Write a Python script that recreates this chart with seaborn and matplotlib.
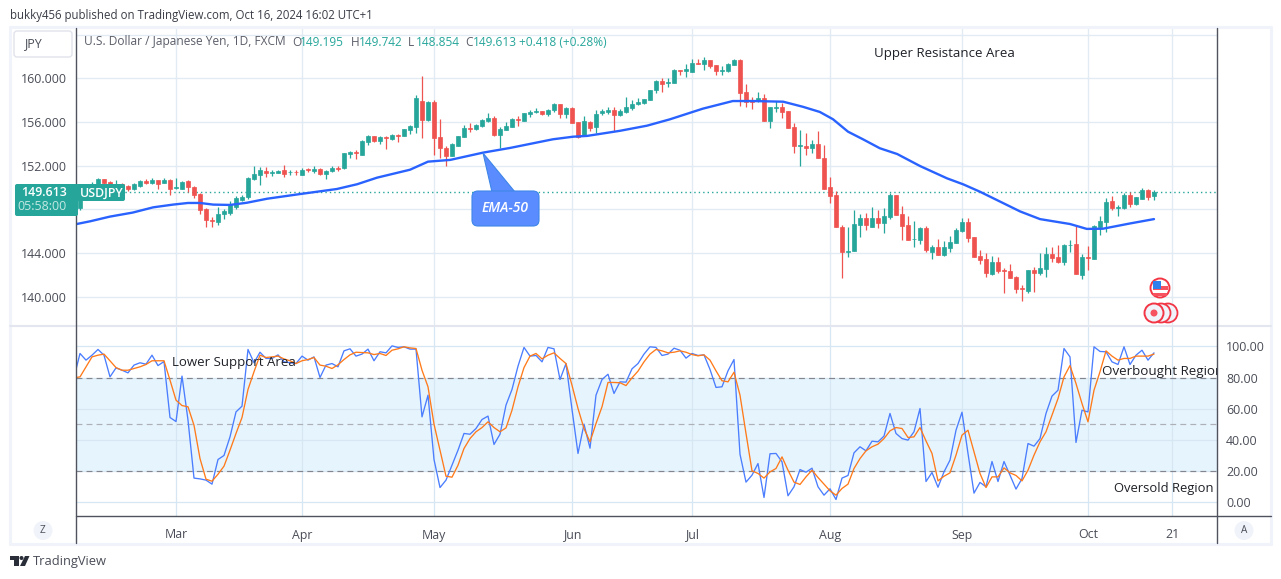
import matplotlib
matplotlib.use("Agg")
import matplotlib.pyplot as plt
import matplotlib.patches as mp
from matplotlib.transforms import Affine2D
import numpy as np
import pandas as pd
import seaborn as sns

opens = [148.1,149.0,149.6,150.3,150.75,150.5,150.2,150.3,150.1,149.9,
150.15,150.55,150.4,150.65,150.45,150.7,149.95,149.9,150.55,150.05,
149.4,148.0,147.05,146.85,147.55,147.7,148.25,148.85,149.1,150.75,
151.15,151.55,151.35,151.35,151.6,151.4,151.45,151.15,151.7,151.55,
151.7,151.25,151.5,151.8,151.75,153.1,153.3,153.0,154.15,154.7,
154.3,154.6,154.45,154.85,154.75,155.25,155.55,157.9,156.2,157.8,
154.65,153.65,152.9,153.8,154.6,155.45,155.4,155.6,156.1,156.35,
154.8,155.3,155.55,156.25,156.1,156.75,156.95,157.0,156.75,157.1,
157.65,156.75,157.3,156.0,154.8,156.05,155.55,156.8,156.9,157.1,
156.65,156.9,157.25,157.65,157.75,158.0,158.9,159.8,159.6,159.55,
160.75,160.65,160.6,161.4,161.35,161.7,161.2,160.7,160.65,161.25,
161.7,158.75,158.05,157.9,158.25,156.1,157.3,157.35,157.05,155.55,
153.85,153.85,153.6,154.0,152.75,150.0,149.3,
146.4,144.1,144.15,146.55,147.2,146.4,147.2,146.75,147.3,149.3,
147.6,146.55,145.25,145.2,146.3,144.1,144.55,143.8,144.45,144.9,
146.0,146.85,145.45,143.7,143.45,142.05,143.15,142.4,142.3,141.8,
140.75,140.5,142.45,142.15,142.5,143.9,143.6,143.15,144.7,144.85,
141.95,143.6,143.45,146.4,146.85,148.75,148.15,148.1,149.3,148.5,
148.95,149.75,149.195]
highs = [149.3,149.8,150.5,150.85,150.8,150.55,150.65,150.4,150.25,150.45,
150.65,150.75,150.85,150.7,150.85,150.75,150.9,150.6,150.65,150.1,
149.45,148.1,147.3,148.2,148.0,148.75,149.2,149.3,150.95,151.95,
151.85,151.9,151.65,151.6,152.05,151.6,151.65,151.8,151.8,152.0,
151.8,151.65,152.0,152.0,153.2,153.35,153.4,154.4,154.8,154.75,
154.7,154.7,154.95,154.9,155.4,155.7,158.45,160.2,157.9,158.05,
156.3,153.8,154.05,154.75,155.75,155.95,155.8,156.25,156.85,156.6,
155.55,156.05,156.35,156.55,156.85,157.1,157.25,157.0,157.2,157.75,
157.7,157.4,157.4,156.0,156.55,156.1,157.1,157.2,157.35,157.35,
157.2,158.3,158.0,158.2,158.15,158.95,159.85,160.0,160.0,160.85,
160.8,161.3,161.8,161.8,161.95,161.7,161.25,161.1,161.4,161.8,
161.75,159.5,158.3,158.8,158.6,157.4,157.95,157.75,157.05,155.95,
155.3,155.0,154.4,155.15,153.9,151.0,149.7,
146.6,146.4,147.95,147.55,147.7,148.2,147.95,148.15,149.45,149.3,
148.3,147.4,146.9,146.4,146.5,144.7,145.25,145.1,145.55,146.3,
147.2,147.2,145.5,144.3,144.0,143.75,143.6,142.6,143.0,141.85,
141.1,142.45,142.7,144.0,144.5,144.5,144.75,144.8,145.2,146.55,
143.9,144.6,146.6,147.35,149.05,149.2,148.4,149.45,149.6,149.15,
149.95,149.85,149.742]
lows = [147.95,148.9,149.4,150.2,150.3,150.2,149.9,149.9,149.7,149.75,
150.0,150.3,150.3,149.9,150.4,149.3,149.85,149.85,149.6,149.0,
147.6,146.4,146.4,146.6,147.15,147.45,148.05,148.75,148.9,150.65,
150.25,151.0,151.05,151.3,151.0,151.1,151.1,151.1,151.4,151.35,
151.1,150.75,151.45,151.5,151.7,152.75,152.6,153.0,153.9,154.2,
153.95,153.55,154.4,154.2,154.75,154.95,155.0,154.5,156.1,153.0,
152.7,152.0,152.85,153.8,154.6,155.1,155.3,155.55,156.05,154.75,
153.6,155.3,155.55,155.65,156.1,156.5,156.85,156.65,156.55,156.9,
156.35,156.4,155.95,154.5,154.75,155.15,155.0,156.65,156.75,155.2,
156.55,156.85,157.15,157.55,157.7,158.0,158.7,158.75,159.2,159.55,
160.3,160.1,160.55,161.3,160.75,160.95,160.3,160.3,160.6,161.2,
157.5,157.4,157.2,157.85,156.1,155.45,156.9,156.35,155.45,153.2,
152.0,153.0,153.2,152.7,149.9,148.6,146.4,
141.7,143.65,144.15,145.45,146.1,146.4,146.25,145.85,147.1,147.5,
145.2,145.2,144.5,144.85,144.1,143.45,143.8,143.75,144.05,144.9,
145.9,145.0,143.6,143.0,141.8,142.0,142.2,140.3,141.7,140.3,
139.6,140.3,140.45,141.95,141.75,143.2,143.1,142.85,144.05,142.05,
141.65,142.4,143.45,145.6,145.9,147.9,147.4,148.0,148.2,148.4,
148.95,148.85,148.854]
closes = [149.0,149.6,150.3,150.75,150.4,150.3,150.35,150.1,149.9,150.35,
150.55,150.4,150.7,150.35,150.65,149.85,150.05,150.5,150.0,149.3,
147.95,147.0,146.95,147.6,147.8,148.35,149.05,149.15,150.85,151.2,
151.6,151.3,151.45,151.55,151.25,151.45,151.4,151.65,151.6,151.7,
151.25,151.55,151.8,151.7,153.15,153.25,153.2,154.25,154.7,154.25,
154.6,154.55,154.85,154.75,155.35,155.65,158.25,156.2,157.8,154.55,
153.6,152.9,153.95,154.7,155.45,155.4,155.75,156.2,156.4,154.8,
155.35,155.65,156.3,156.15,156.8,156.9,157.05,156.75,157.15,157.65,
156.75,157.3,155.95,154.65,156.1,155.5,156.75,157.0,157.1,156.65,
157.0,157.35,157.7,157.85,158.1,158.9,159.8,159.5,159.7,160.75,
160.65,160.85,161.4,161.35,161.7,161.1,160.65,160.8,161.3,161.65,
158.65,157.85,157.85,158.25,156.1,157.35,157.35,156.9,155.45,153.8,
153.9,153.6,154.0,152.7,149.9,149.25,146.4,
144.1,144.2,146.65,147.2,146.55,147.2,146.75,147.4,149.3,147.5,
146.5,145.2,145.3,146.3,144.3,144.55,143.8,144.55,145.0,146.1,
146.85,145.4,143.6,143.35,142.15,143.15,142.3,142.35,141.7,140.7,
140.7,142.45,142.15,142.6,143.9,143.55,143.15,144.7,144.75,142.05,
143.6,143.55,146.5,146.95,148.7,148.1,148.2,149.3,148.5,149.1,
149.75,149.1,149.613]

ema_days = [-1,1.7,5,8.8,12.2,15.5,18,20,22.2,25,27.8,31.2,36.7,42.8,46.2,49.5,55,58,61.7,67.2,
71.7,78.8,82.2,84.5,90,94.5,98.3,103.8,108.8,112.2,117.2,120.5,123.3,125.5,128,130.5,133.3,136.2,140,
144.5,147.2,150,156.7,160,165,167.8,170.5,175,179]
ema_vals = [146.6,146.9,147.33,147.7,148.18,148.43,148.58,148.58,148.43,148.4,148.6,148.97,149.4,149.86,150.3,150.9,151.63,152.37,152.53,153.2,
153.63,154.42,154.66,154.73,155.2,155.67,156.25,157.23,157.93,157.93,157.87,157.4,156.93,156.26,155.12,154.42,153.6,153.07,151.97,
150.84,150.29,149.61,147.8,147.1,146.65,146.2,146.22,146.7,147.1]

stoch_k = [80.0,95.5,91.2,94.4,98.1,94.4,80.4,86.2,84.7,83.0,
88.0,89.5,88.6,94.4,87.7,90.3,54.2,51.6,80.9,52.5,
15.1,14.6,13.8,11.2,27.1,29.7,41.7,57.8,61.5,98.1,
89.5,96.3,92.3,92.3,94.6,90.1,89.5,89.0,93.8,91.2,
93.3,80.0,88.0,89.0,86.9,97.2,98.5,93.8,95.1,98.3,
90.8,96.6,95.9,100.4,99.4,99.8,98.3,98.3,54.6,68.6,
27.1,9.0,13.8,23.4,33.1,43.9,43.4,47.1,52.9,55.1,
36.8,43.4,62.2,72.3,87.3,99.4,93.8,94.2,90.1,99.4,
98.5,78.7,89.0,59.4,31.0,49.9,34.4,68.6,78.7,82.1,
69.7,77.2,77.0,85.6,89.0,95.1,99.8,99.4,94.2,95.1,
98.9,97.6,92.5,95.5,94.2,94.6,85.2,73.6,74.0,84.3,
91.6,30.5,12.5,17.0,24.5,2.6,30.8,31.0,25.6,3.7,
9.5,20.6,18.9,21.5,9.5,4.1,8.2,1.3,15.1,16.8,
31.4,35.3,32.7,38.9,38.5,42.2,56.8,43.9,40.6,39.6,
45.0,60.0,12.9,18.7,9.2,19.1,26.7,46.0,57.6,31.0,
5.4,12.3,9.5,25.8,12.9,25.8,17.0,8.0,14.8,37.4,
35.7,40.6,56.8,68.0,71.8,98.7,93.3,38.1,58.9,57.8,
99.8,96.8,96.6,90.1,88.4,99.8,88.4,94.4,97.6,91.2,95.9]
stoch_d = [79.8,80.4,86.9,93.3,94.4,95.1,90.8,86.4,84.7,84.7,
85.8,86.9,88.4,90.8,90.8,90.8,78.3,65.4,61.9,61.1,
49.2,27.7,14.4,13.1,17.6,22.8,33.1,43.9,54.2,72.3,
83.7,94.4,92.9,93.3,93.8,92.0,90.8,89.0,90.8,91.6,
92.9,88.0,87.3,85.8,88.2,91.6,94.6,96.3,96.1,95.9,
94.8,95.5,94.2,97.6,98.5,99.8,99.1,98.7,84.7,74.0,
49.9,33.1,16.3,15.7,23.4,34.2,40.6,45.0,47.7,51.4,
47.7,45.0,47.5,58.9,74.0,86.4,93.8,95.5,92.0,94.4,
95.9,92.3,89.0,75.0,60.0,47.1,38.5,50.3,61.1,76.8,
76.8,76.6,74.8,79.8,84.1,90.1,95.1,98.1,97.2,95.9,
96.3,97.2,96.3,94.8,94.0,94.6,91.2,84.3,77.9,77.2,
83.4,68.6,43.9,19.8,18.1,15.1,19.1,21.3,28.8,20.2,
12.5,11.0,15.9,20.2,15.5,11.2,6.9,4.1,8.4,11.2,
21.3,27.7,32.7,35.3,37.0,40.6,45.6,47.7,47.1,41.3,
41.7,47.7,39.1,31.0,13.3,16.3,18.5,29.9,42.8,46.0,
32.0,18.1,9.0,15.9,15.9,21.7,18.5,16.8,13.3,20.2,
29.9,38.5,45.0,55.7,66.4,80.4,87.7,76.1,63.2,51.4,
71.8,83.7,97.2,93.8,91.2,92.3,92.3,93.8,93.8,93.8,95.1]

price_ticks = [164, 160, 156, 152, 148, 144, 140]
price_labels = ["", "160.000", "156.000", "152.000", "", "144.000", "140.000"]
stoch_ticks = [100, 80, 60, 40, 20, 0]
time_days = [16, 37, 59, 82, 102, 125, 147, 168, 182]
time_labels = ["Mar", "Apr", "May", "Jun", "Jul", "Aug", "Sep", "Oct", "21"]
last_price = 149.613

GREEN, RED, BLUE, ORANGE = "#26a69a", "#ef5350", "#2962ff", "#ff6d00"
GRID, DARK, TXT, BAND = "#e2ebf3", "#50535e", "#4a4d57", "#e6f4fd"
W, H = 1281, 579

sns.set_theme(style="white")
plt.rcParams["font.family"] = ["Open Sans", "DejaVu Sans"]

fig = plt.figure(figsize=(W / 100, H / 100), dpi=100, facecolor="white")
PX = Affine2D().scale(1, -1).translate(0, H)


def axes_px(x0, y0, x1, y1):
    return fig.add_axes([x0 / W, 1 - y1 / H, (x1 - x0) / W, (y1 - y0) / H])


def text_px(x, y, s, size=8.6, color=TXT, ha="left", va="center", **kw):
    return fig.text(x / W, 1 - y / H, s, fontsize=size, color=color, ha=ha, va=va, **kw)


def line_px(xs, ys, color, lw=1.0, z=10):
    fig.add_artist(plt.Line2D(xs, ys, color=color, lw=lw, transform=PX, zorder=z))


days = np.arange(len(closes))
candles = pd.DataFrame({"day": days, "o": opens, "h": highs, "l": lows, "c": closes})
ema = pd.DataFrame({"day": ema_days, "ema": ema_vals})
stoch = pd.DataFrame({"day": np.arange(-1, len(closes)), "k": stoch_k, "d": stoch_d})

# price pane
ax = axes_px(76, 28, 1217, 325.5)
ax.set_xlim(-0.667, 189.5)
ax.set_ylim(137.34, 164.63)
up = candles["c"] >= candles["o"]
cols = np.where(up, GREEN, RED)
ax.vlines(candles["day"], candles["l"], candles["h"], colors=cols, lw=0.9, zorder=3)
ax.bar(candles["day"], (candles["c"] - candles["o"]).abs(),
       bottom=candles[["o", "c"]].min(axis=1), width=0.8, color=cols,
       edgecolor=cols, linewidth=0.5, zorder=4)
sns.lineplot(data=ema, x="day", y="ema", ax=ax, color=BLUE, lw=1.7, estimator=None,
             errorbar=None, legend=False, zorder=5)
ax.axhline(last_price, color=GREEN, lw=1.0, ls=(0, (1, 2.2)), zorder=2)
ax.set_yticks(price_ticks)
ax.set_yticklabels(price_labels, fontsize=8.9, color=TXT)
ax.set_xticks(time_days)
ax.tick_params(axis="y", length=0, pad=6.5)
ax.tick_params(axis="x", length=0, labelbottom=False)
ax.grid(True, color=GRID, lw=1.0)
ax.set_axisbelow(True)
ax.set_xlabel("")
ax.set_ylabel("")
for s in ax.spines.values():
    s.set_visible(False)
for lb in ax.get_yticklabels():
    lb.set_verticalalignment("center_baseline")

# stochastic pane
ax2 = axes_px(76, 327, 1217, 516)
ax2.set_xlim(-0.667, 189.5)
ax2.set_ylim(-9.35, 112.58)
ax2.axhspan(20, 80, color=BAND, lw=0, zorder=0)
ax2.set_yticks(stoch_ticks)
ax2.set_xticks(time_days)
ax2.set_xticklabels(time_labels, fontsize=8.9, color=TXT)
ax2.yaxis.tick_right()
ax2.set_yticklabels([f"{v:.2f}" for v in stoch_ticks], fontsize=8.9, color=TXT)
ax2.tick_params(axis="y", length=0, pad=6.5)
ax2.tick_params(axis="x", length=0, pad=9)
ax2.grid(True, color="#d6e6f2", lw=0.9, zorder=1)
ax2.set_axisbelow(True)
for lv, c in [(80, "#83868f"), (50, "#aeb0b8"), (20, "#83868f")]:
    ax2.axhline(lv, color=c, lw=0.85, ls=(0, (5, 3.5)), zorder=2)
sns.lineplot(data=stoch, x="day", y="k", ax=ax2, color="#4a7dff", lw=0.95, estimator=None,
             errorbar=None, legend=False, zorder=4)
sns.lineplot(data=stoch, x="day", y="d", ax=ax2, color="#ff7a1a", lw=0.95, estimator=None,
             errorbar=None, legend=False, zorder=5)
ax2.set_xlabel("")
ax2.set_ylabel("")
for s in ax2.spines.values():
    s.set_visible(False)
for lb in ax2.get_yticklabels():
    lb.set_verticalalignment("center_baseline")

# chart frame
for xs, ys in [((10, 1271), (27, 27)), ((10, 1271), (543.5, 543.5)), ((10, 10), (27, 543.5)), ((1271, 1271), (27, 543.5))]:
    line_px(xs, ys, "#f0f3fa", lw=2.2)
line_px((10, 1271), (326, 326), "#e3e6ee", lw=1.5)
line_px((76, 76), (28, 543), DARK, lw=1.0)
line_px((1217, 1217), (28, 543), DARK, lw=1.0)
line_px((76, 1271), (516, 516), DARK, lw=1.0)

# headers
text_px(10, 15, "bukky456 published on TradingView.com, Oct 16, 2024 16:02 UTC+1", size=8.3, color="#3a3d46")
text_px(84, 42, "U.S. Dollar / Japanese Yen, 1D, FXCM", size=8.6, color="#5b5e69")
for x, lab, val in [(292, "O", "149.195"), (351, "H", "149.742"), (408, "L", "148.854"), (465, "C", "149.613")]:
    text_px(x, 42, lab, size=8.6, color="#5b5e69")
    text_px(x + 8, 42, val, size=8.6, color=GREEN)
text_px(519, 42, "+0.418 (+0.28%)", size=8.6, color=GREEN)

# JPY selector
fig.add_artist(mp.FancyBboxPatch((16, 33), 54, 22, boxstyle="round,pad=2,rounding_size=3",
                                 fc="white", ec="#e0e3eb", lw=1, transform=PX, zorder=9))
text_px(33, 44, "JPY", size=8.9, ha="center", zorder=10)

# last price tags
fig.add_artist(mp.FancyBboxPatch((17, 186), 59, 28, boxstyle="round,pad=2,rounding_size=2",
                                 fc=GREEN, ec="none", transform=PX, zorder=11))
fig.add_artist(mp.FancyBboxPatch((77, 185), 47, 15, boxstyle="round,pad=1,rounding_size=2",
                                 fc=GREEN, ec="none", transform=PX, zorder=11))
text_px(67, 193, "149.613", size=8.9, color="white", ha="right", zorder=12, fontweight="semibold")
text_px(67, 207, "05:58:00", size=8.9, color="#c5e8e4", ha="right", zorder=12)
text_px(80, 193, "USDJPY", size=8.9, color="white", zorder=12, fontweight="semibold")

# drawing labels
text_px(874, 53.5, "Upper Resistance Area", size=9.55, color="#1f2128", zorder=12)
text_px(172, 362.5, "Lower Support Area", size=9.55, color="#1f2128", zorder=12)
t = text_px(1102, 371.5, "Overbought Region", size=9.6, color="#1f2128", zorder=12)
t.set_clip_path(mp.Rectangle((76, 0), 1141, H, transform=None))
t.set_clip_on(True)
text_px(1114, 488.5, "Oversold Region", size=9.4, color="#1f2128", zorder=12)

# callout
fig.add_artist(mp.Polygon([(483, 153), (492, 192), (515, 192)], closed=True, fc="#5b8cff",
                          ec="#3d86e8", lw=0.8, transform=PX, zorder=12))
fig.add_artist(mp.FancyBboxPatch((476, 195), 59, 27, boxstyle="round,pad=4,rounding_size=6",
                                 fc="#5b8cff", ec="#3d86e8", lw=0.8, transform=PX, zorder=13))
text_px(505.5, 208.5, "EMA-50", size=10, color="white", ha="center", style="italic", zorder=14,
        fontweight="semibold")

# event markers
for cx in (1168, 1161):
    fig.add_artist(mp.Circle((cx, 313), 9.5, fc="#f0f3fa", ec="#f23645", lw=1.3, transform=PX, zorder=12))
fig.add_artist(mp.Circle((1154, 313), 9.5, fc="#f0f3fa", ec="#f23645", lw=1.4, transform=PX, zorder=13))
fig.add_artist(mp.Circle((1154, 313), 3.5, fc="#f7525f", ec="none", transform=PX, zorder=14))
fig.add_artist(mp.Circle((1160, 288), 9.5, fc="white", ec="#f23645", lw=1.4, transform=PX, zorder=12))
fig.add_artist(mp.Rectangle((1153, 285.5), 15, 4.5, fc="#f7525f", ec="none", transform=PX, zorder=13))
fig.add_artist(mp.Rectangle((1153, 293), 14, 2.5, fc="#f7525f", ec="none", transform=PX, zorder=13))
fig.add_artist(mp.Rectangle((1152.5, 280.5), 8.5, 8.5, fc="#2f80ed", ec="none", transform=PX, zorder=14))

# axis buttons
for cx, lab in [(43, "Z"), (1244, "A")]:
    fig.add_artist(mp.Circle((cx, 530.5), 9.5, fc="#f0f3fa", ec="none", transform=PX, zorder=12))
    text_px(cx, 530.5, lab, size=7.2, ha="center", zorder=13)

# footer logo and wordmark
logo = "#2a2e39"
fig.add_artist(mp.Polygon([(10, 556), (19, 556), (19, 566), (14, 566), (14, 560), (10, 560)], closed=True,
                          fc=logo, ec="none", transform=PX, zorder=12))
fig.add_artist(mp.Circle((21.5, 558), 2, fc=logo, ec="none", transform=PX, zorder=12))
fig.add_artist(mp.Polygon([(25, 556), (29.5, 556), (25, 566), (20, 566)], closed=True,
                          fc=logo, ec="none", transform=PX, zorder=12))
text_px(33, 561.5, "TradingView", size=9.3, color="#4a4d57")

fig.savefig("out.png", dpi=100, facecolor="white")
